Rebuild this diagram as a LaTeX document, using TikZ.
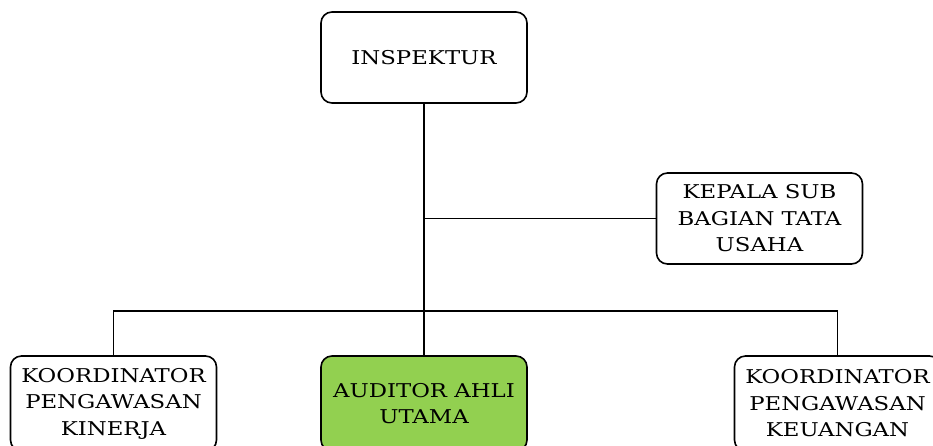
\documentclass[tikz,border=0pt]{standalone}
\usepackage{fontspec}
\setmainfont{DejaVu Serif}
\newfontfamily\boxfont[FakeStretch=1.2]{DejaVu Serif}
\definecolor{boxgreen}{HTML}{92D050}
\begin{document}
\begin{tikzpicture}[x=1pt,y=-1pt,
  orgbox/.style={draw=black, line width=1.6pt, rounded corners=11pt, minimum width=206pt, minimum height=91pt, inner sep=0pt, align=center, font=\boxfont\fontsize{19}{26.5}\selectfont},
  lowbox/.style={orgbox, minimum height=95pt},
  link/.style={draw=black, line width=1.6pt}]
\useasboundingbox (0,0) rectangle (933,445);
\clip (0,0) rectangle (933,445);
\node[orgbox] (insp) at (424,57.5) {INSPEKTUR};
\node[orgbox] (tu) at (759.5,218.5) {KEPALA SUB\\BAGIAN TATA\\USAHA};
\node[lowbox] (kin) at (113.5,403.5) {KOORDINATOR\\PENGAWASAN\\KINERJA};
\node[lowbox, fill=boxgreen] (aud) at (424,403.5) {AUDITOR AHLI\\UTAMA};
\node[lowbox] (keu) at (837.5,403.5) {KOORDINATOR\\PENGAWASAN\\KEUANGAN};
\coordinate (bus) at (424,311);
\draw[link] (insp.south) -- (aud.north);
\draw[link] (tu.west) -- (tu.west -| insp.south);
\draw[link] (kin.north) |- (bus) -| (keu.north);
\end{tikzpicture}
\end{document}
